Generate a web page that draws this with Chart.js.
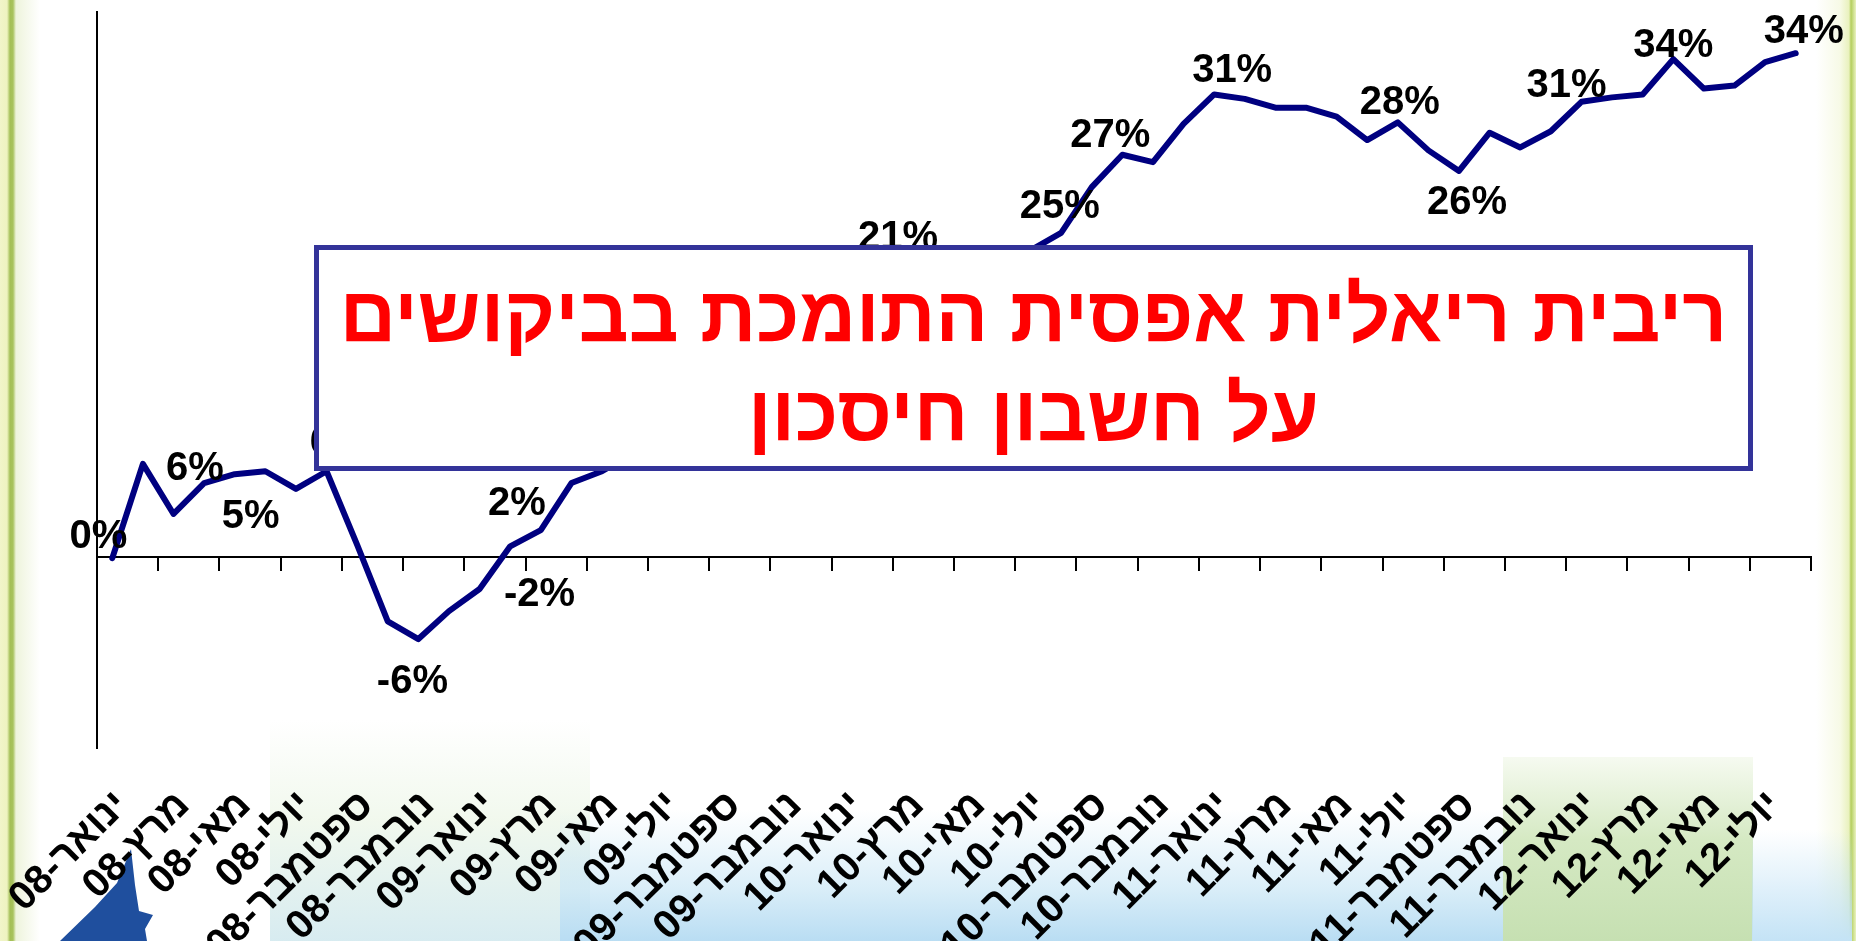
<!DOCTYPE html>
<html lang="he">
<head>
<meta charset="utf-8">
<title>ריבית ריאלית אפסית</title>
<script src="https://cdn.jsdelivr.net/npm/chart.js@4.4.1/dist/chart.umd.min.js"></script>
<style>
    html, body {
        margin: 0;
        padding: 0;
        width: 1856px;
        height: 941px;
        overflow: hidden;
        background: #fff;
    }
    #stage {
        position: relative;
        width: 1856px;
        height: 941px;
    }
    .deco {
        position: absolute;
    }
    #edge-left {
        left: 0; top: 0; width: 40px; height: 941px;
        background: linear-gradient(to right, #f1f5c9 0px, #eef3c0 7px, #a3bf55 10px, #a8c35d 13px, #eef4dc 16px, rgba(255,255,255,0) 40px);
    }
    #edge-right {
        left: 1816px; top: 0; width: 40px; height: 941px;
        background: linear-gradient(to right, rgba(255,255,255,0) 0px, #f7fae6 24px, #e9f1bd 33px, #b3ce5c 35px, #c9dd85 37px, #e9f2c0 40px);
    }
    #wash-a {
        left: 270px; top: 720px; width: 320px; height: 221px;
        background: linear-gradient(to bottom, rgba(240,248,232,0) 0%, rgba(228,242,220,0.5) 45%, rgba(208,232,238,0.85) 100%);
    }
    #wash-b {
        left: 560px; top: 810px; width: 950px; height: 131px;
        background: linear-gradient(to bottom, rgba(255,255,255,0) 0%, rgba(205,232,246,0.75) 60%, #b9ddf3 100%);
    }
    #wash-c {
        left: 1503px; top: 757px; width: 250px; height: 184px;
        background: linear-gradient(to bottom, rgba(232,243,218,0.4) 0%, #d5e9c3 45%, #c6e0b2 100%);
    }
    #wash-d {
        left: 1752px; top: 830px; width: 100px; height: 111px;
        background: linear-gradient(to bottom, rgba(255,255,255,0) 0%, #c4e3f6 100%);
    }
    #logo {
        left: 55px; top: 845px; width: 100px; height: 96px;
        background: #1f4f9e;
        clip-path: polygon(5px 96px, 40px 62px, 62px 38px, 76px 4px, 80px 40px, 84px 66px, 98px 70px, 90px 84px, 92px 96px);
    }
    #chart-wrap {
        position: absolute;
        left: 0; top: 0;
        width: 1856px; height: 941px;
    }
    #title-box {
        position: absolute;
        left: 314px; top: 245px;
        width: 1439px; height: 226px;
        box-sizing: border-box;
        border: 5px solid #333399;
        background: #fff;
        color: #ff0000;
        font-family: "Liberation Sans", Arial, sans-serif;
        font-weight: bold;
        font-size: 78px;
        line-height: 99px;
        text-align: center;
        direction: rtl;
        white-space: nowrap;
        padding-top: 15px;
    }
</style>
</head>
<body>
<div id="stage">
    <div class="deco" id="edge-left"></div>
    <div class="deco" id="edge-right"></div>
    <div class="deco" id="wash-a"></div>
    <div class="deco" id="wash-b"></div>
    <div class="deco" id="wash-c"></div>
    <div class="deco" id="wash-d"></div>
    <div class="deco" id="logo"></div>
    <div id="chart-wrap"><canvas id="rate-chart" width="1856" height="941"></canvas></div>
    <div id="title-box">
        <div>ריבית ריאלית אפסית התומכת בביקושים</div>
        <div>על חשבון חיסכון</div>
    </div>
</div>
<script>
// Month names and years for the category axis (Jan-08 .. Aug-12)
const monthNames = ['ינואר', 'פברואר', 'מרץ', 'אפריל', 'מאי', 'יוני', 'יולי', 'אוגוסט', 'ספטמבר', 'אוקטובר', 'נובמבר', 'דצמבר'];
const years = ['08', '09', '10', '11', '12'];
const monthCount = 56;

// Cumulative real return, percent
const realRate = [
    -0.1, 6.3, 2.9, 5.0, 5.6, 5.8, 4.6, 5.8, 0.8, -4.4, -5.6, -3.7,
    -2.2, 0.7, 1.8, 5.0, 5.8, 7.0, 8.4, 9.6, 10.2, 12.1, 13.5, 14.2,
    16.0, 18.9, 20.8, 19.6, 20.1, 19.8, 20.8, 22.0, 25.1, 27.3, 26.8, 29.4,
    31.4, 31.1, 30.5, 30.5, 29.9, 28.3, 29.5, 27.6, 26.2, 28.8, 27.8, 28.9,
    30.9, 31.2, 31.4, 33.8, 31.8, 32.0, 33.6, 34.2
];

// Value labels shown on the line
const labelIndex = [0, 1, 4, 7, 10, 12, 14, 26, 32, 33, 36, 42, 44, 48, 51, 55];
const labelText = ['0%', '6%', '5%', '6%', '-6%', '-2%', '2%', '21%', '25%', '27%', '31%', '28%', '26%', '31%', '34%', '34%'];
// pixel shift of each label from its point
const labelShift = [
    [-14, -21], [52, 5], [16, 43], [12, -28], [-6, 43], [60, 6], [-24, -26], [-10, -12],
    [-32, 20], [-12, -19], [18, -23], [2, -19], [8, 32], [-15, -16], [0, -13], [8, -21]
];

const yMin = -13;
const yMax = 37;

const months = [];
years.forEach(yr => {
    monthNames.forEach(m => {
        if (months.length < monthCount) months.push(m + '-' + yr);
    });
});

const FONT = '"Liberation Sans", Arial, sans-serif';
Chart.defaults.font.family = FONT;

/**
 * Draw value labels next to selected points
 */
const valueLabels = {
    id: 'valueLabels',
    afterDatasetsDraw(chart) {
        const ctx = chart.ctx;
        const meta = chart.getDatasetMeta(0);
        ctx.save();
        ctx.font = 'bold 40px ' + FONT;
        ctx.fillStyle = '#000';
        ctx.textAlign = 'center';
        ctx.textBaseline = 'middle';
        labelIndex.forEach((idx, i) => {
            const pt = meta.data[idx];
            if (!pt) return;
            ctx.fillText(labelText[i], pt.x + labelShift[i][0], pt.y + labelShift[i][1]);
        });
        ctx.restore();
    }
};

const ctx = document.getElementById('rate-chart').getContext('2d');

new Chart(ctx, {
    type: 'line',
    data: {
        labels: months,
        datasets: [{
            data: realRate,
            borderColor: '#000080',
            borderWidth: 6,
            pointRadius: 0,
            tension: 0,
            fill: false,
            borderJoinStyle: 'round',
            borderCapStyle: 'round'
        }]
    },
    options: {
        responsive: false,
        animation: false,
        layout: {
            padding: { left: 97, top: 12, right: 45, bottom: 0 }
        },
        plugins: {
            legend: { display: false },
            tooltip: { enabled: false },
            title: { display: false }
        },
        scales: {
            x: {
                type: 'category',
                position: 'bottom',
                offset: true,
                grid: { display: false, drawTicks: false },
                border: { display: false },
                ticks: {
                    autoSkip: false,
                    minRotation: 45,
                    maxRotation: 45,
                    padding: 34,
                    labelOffset: 10,
                    color: '#000',
                    font: { size: 40, weight: 'bold' },
                    callback: (value, index) => (index % 2 === 0 ? months[index] : '')
                },
                afterFit: (scale) => {
                    scale.height = 193;
                    scale.paddingLeft = 0;
                    scale.paddingRight = 0;
                }
            },
            // zero line with tick marks every two months
            xz: {
                type: 'category',
                axis: 'x',
                position: { y: 0 },
                offset: true,
                ticks: { display: false },
                grid: {
                    offset: true,
                    drawOnChartArea: false,
                    drawTicks: true,
                    tickLength: 13,
                    lineWidth: 2,
                    color: (c) => (c.index === undefined || (c.index > 0 && c.index % 2 === 0)) ? '#000' : 'rgba(0,0,0,0)'
                },
                border: { display: true, color: '#000', width: 2 }
            },
            y: {
                min: yMin,
                max: yMax,
                ticks: { display: false },
                grid: { display: false, drawTicks: false },
                border: { display: true, color: '#000', width: 2 }
            }
        }
    },
    plugins: [valueLabels]
});
</script>
</body>
</html>
